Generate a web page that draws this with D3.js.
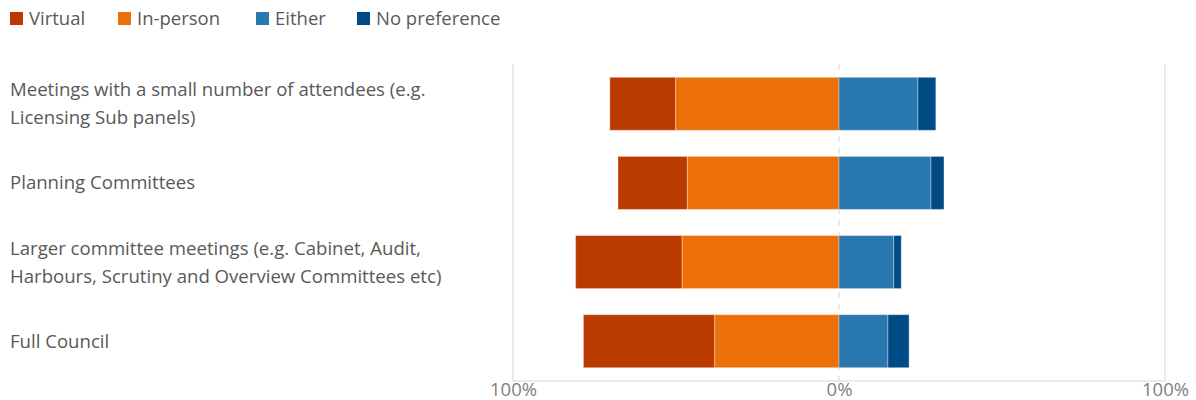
<!DOCTYPE html>
<html>
<head>
<meta charset="utf-8">
<script src="https://cdn.jsdelivr.net/npm/d3@7"></script>
<style>
  body { margin: 0; background: #fff; }
  svg text { font-family: "Open Sans", "Noto Sans", sans-serif; }
</style>
</head>
<body>
<div class="chart"></div>
<script>
const width = 1196, height = 400;

// data (percent of respondents)
const categories = [
    ["Meetings with a small number of attendees (e.g.", "Licensing Sub panels)"],
    ["Planning Committees"],
    ["Larger committee meetings (e.g. Cabinet, Audit,", "Harbours, Scrutiny and Overview Committees etc)"],
    ["Full Council"]
];
const seriesNames = ["Virtual", "In-person", "Either", "No preference"];
const virtual  = [20.2, 21.3, 32.7, 40.3];
const inPerson = [50.1, 46.5, 48.1, 38.1];
const either   = [24.2, 28.2, 16.8, 15.0];
const noPref   = [5.5, 4.0, 2.3, 6.5];
const tickValues = [-100, 0, 100];
const tickLabels = ["100%", "0%", "100%"];

const colors = ["#BB3A00", "#EB7007", "#2A78B0", "#004A85"];
const m = { top: 64, right: 31, bottom: 19, left: 513 };

const svg = d3.select(".chart")
    .append("svg")
    .attr("width", width)
    .attr("height", height);

const x = d3.scaleLinear()
    .domain([-100, 100])
    .range([m.left, width - m.right]);

const keys = categories.map((c, i) => i);
const y = d3.scaleBand()
    .domain(keys)
    .range([m.top, height - m.bottom])
    .paddingInner(0.33)
    .paddingOuter(0.168);

// gridlines
svg.selectAll(".grid")
    .data(tickValues)
    .enter().append("line")
    .attr("x1", d => x(d)).attr("x2", d => x(d))
    .attr("y1", m.top).attr("y2", height - m.bottom)
    .attr("stroke", "#e4e4e4")
    .attr("stroke-width", 1.5)
    .attr("stroke-dasharray", d => d === 0 ? "6,6" : null);

svg.append("line")
    .attr("x1", x(-100)).attr("x2", x(100))
    .attr("y1", height - m.bottom).attr("y2", height - m.bottom)
    .attr("stroke", "#e4e4e4")
    .attr("stroke-width", 1.5);

// build segments: negatives stack leftward from 0, positives rightward
var segs = [];
keys.forEach(function(i){
    let v = virtual[i], p = inPerson[i], e = either[i], n = noPref[i];
    segs.push({ row: i, s: 0, x0: -(v + p), x1: -p });
    segs.push({ row: i, s: 1, x0: -p, x1: 0 });
    segs.push({ row: i, s: 2, x0: 0, x1: e });
    segs.push({ row: i, s: 3, x0: e, x1: e + n });
});

svg.append("g").selectAll("rect")
    .data(segs)
    .enter().append("rect")
    .attr("x", d => x(d.x0))
    .attr("y", d => y(d.row))
    .attr("width", d => x(d.x1) - x(d.x0))
    .attr("height", y.bandwidth())
    .attr("fill", d => colors[d.s])
    .attr("stroke", "#fff")
    .attr("stroke-opacity", 0.35)
    .attr("stroke-width", 1);

// category labels
const lineH = 28;
svg.append("g").selectAll("text")
    .data(keys)
    .enter().append("text")
    .attr("fill", "#595959")
    .attr("font-size", "18.6px")
    .each(function(i){
        let lines = categories[i];
        let cy = y(i) + y.bandwidth() / 2 - (lines.length - 1) * lineH / 2;
        let t = d3.select(this);
        lines.forEach(function(l, k){
            t.append("tspan")
                .attr("x", 10)
                .attr("y", cy + k * lineH)
                .attr("dy", "0.35em")
                .text(l);
        });
    });

// axis
const axis = d3.axisBottom(x)
    .tickValues(tickValues)
    .tickSize(0)
    .tickPadding(0)
    .tickFormat((d, i) => tickLabels[i]);

const ga = svg.append("g")
    .attr("transform", "translate(0," + (height - m.bottom) + ")")
    .call(axis);
ga.select(".domain").remove();
ga.selectAll("text")
    .attr("y", 2)
    .attr("dy", "0.71em")
    .attr("fill", "#7f7f7f")
    .attr("font-size", "18.5px")
    .style("font-family", "'Open Sans', 'Noto Sans', sans-serif");

// legend
const legendX = [10, 118, 256, 357];
const lg = svg.append("g").selectAll("g")
    .data(seriesNames)
    .enter().append("g")
    .attr("transform", (d, i) => "translate(" + legendX[i] + ",12)");
lg.append("rect")
    .attr("width", 13).attr("height", 13)
    .attr("fill", (d, i) => colors[i]);
lg.append("text")
    .attr("x", 19)
    .attr("y", 6.5)
    .attr("dy", "0.35em")
    .attr("fill", "#595959")
    .attr("font-size", "18.5px")
    .text(d => d);
</script>
</body>
</html>
